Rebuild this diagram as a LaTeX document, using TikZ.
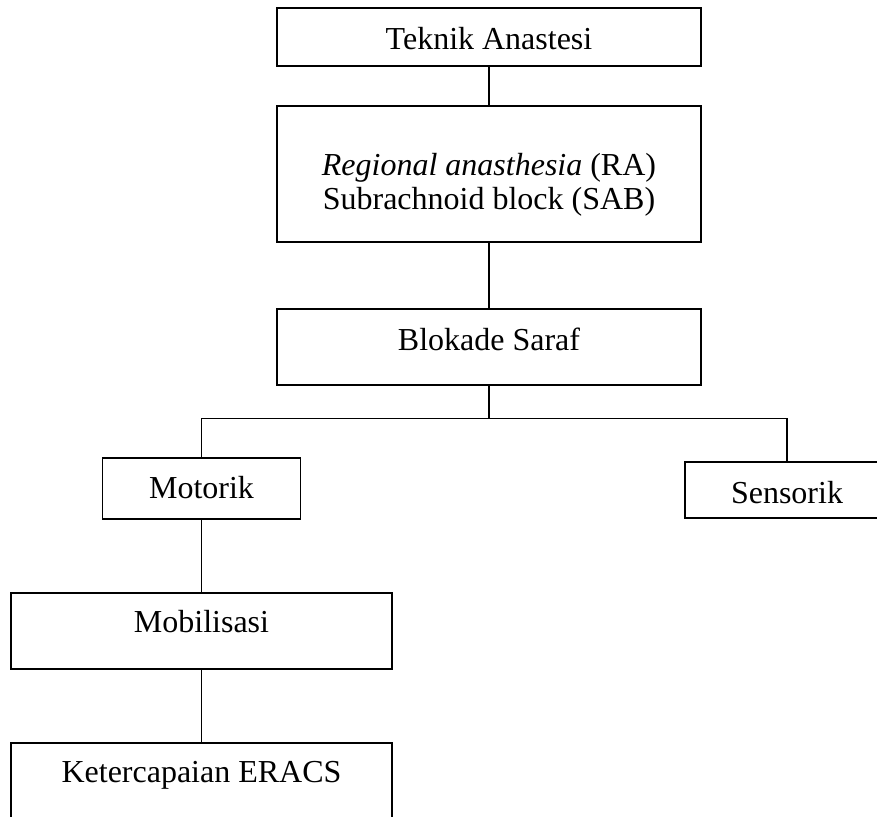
\documentclass[tikz,border=0pt]{standalone}
\usepackage{fontspec}
\setmainfont{Liberation Serif}
\usepackage{tikz}

\begin{document}
\begin{tikzpicture}[
    x=0.5pt, y=-0.5pt,
    box/.style={draw, line width=0.6pt, align=center, inner sep=0pt,
                font=\fontsize{16pt}{17pt}\selectfont},
    oneline/.style={box, text height=17pt, text depth=4pt},
    raised/.style={box, text height=14.5pt, text depth=#1},
    link/.style={line width=0.6pt}
]
\clip (0,0) rectangle (877,817);

\node[oneline, minimum width=212pt, minimum height=29pt] (anast) at (489,37) {Teknik Anastesi};
\node[box, text height=40pt, text depth=4pt, minimum width=212pt, minimum height=68pt] (regional) at (489,174)
    {\textit{Regional anasthesia} (RA)\\Subrachnoid block (SAB)};
\node[raised=11pt, minimum width=212pt, minimum height=38pt] (blokade) at (489,347) {Blokade Saraf};
\node[oneline, text height=14pt, minimum width=99pt, minimum height=30.5pt] (motorik) at (201.5,488.5) {Motorik};
\node[oneline, minimum width=102pt, minimum height=28pt] (sensorik) at (787,490) {Sensorik};
\node[raised=13pt, minimum width=190.5pt, minimum height=38pt] (mobilisasi) at (201.5,631) {Mobilisasi};
\node[raised=13pt, minimum width=190.5pt, minimum height=38pt] (eracs) at (201.5,781) {Ketercapaian ERACS};

\draw[link] (anast) -- (regional);
\draw[link] (regional) -- (blokade);
\draw[link] (blokade.south) -- ++(0,33) coordinate (split);
\draw[link] (split) -| (motorik.north);
\draw[link] (split) -| (sensorik.north);
\draw[link] (motorik) -- (mobilisasi);
\draw[link] (mobilisasi) -- (eracs);

\end{tikzpicture}
\end{document}
